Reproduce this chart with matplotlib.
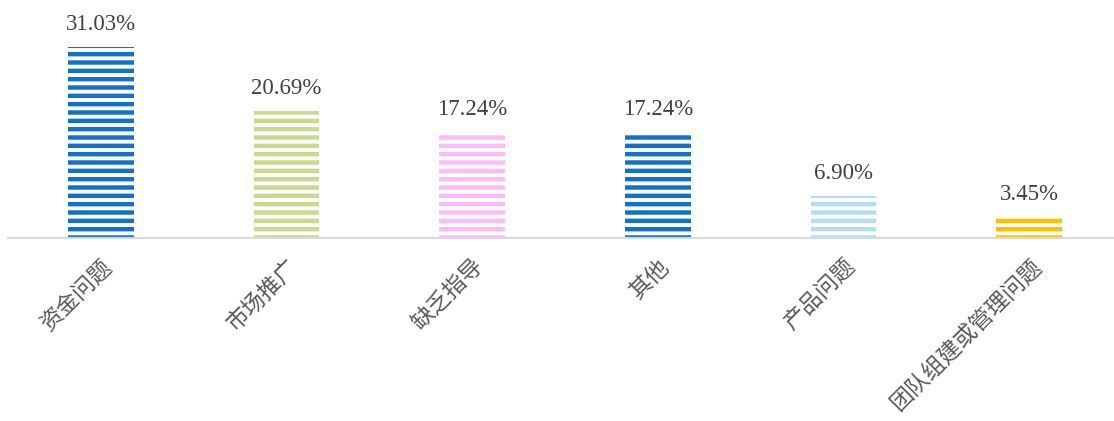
import matplotlib
matplotlib.use("Agg")
import matplotlib.pyplot as plt

# Données du graphique
categories = ["资金问题", "市场推广", "缺乏指导", "其他", "产品问题", "团队组建或管理问题"]
valeurs = [31.03, 20.69, 17.24, 17.24, 6.90, 3.45]
etiquettes = ["31.03%", "20.69%", "17.24%", "17.24%", "6.90%", "3.45%"]
couleurs = ["#1570C8", "#C8DA8E", "#FBBDF7", "#1570C8", "#B3DDF2", "#FFC000"]

plt.rcParams["font.family"] = ["Noto Sans CJK SC", "DejaVu Sans"]
plt.rcParams["hatch.linewidth"] = 3.2

fig = plt.figure(figsize=(11.14, 4.21), dpi=100)
ax = fig.add_axes([8 / 1114, 183 / 421, 1114 / 1114, 238 / 421])

x = range(len(categories))
barres = ax.bar(x, valeurs, width=0.355, facecolor="white", edgecolor=couleurs,
                hatch="--", linewidth=0)
for b, c in zip(barres, couleurs):
    b.set_edgecolor(c)

# Étiquettes de valeur
for i, (v, t) in enumerate(zip(valeurs, etiquettes)):
    ax.text(i, v + 1.9, t, ha="center", va="bottom", fontsize=16.5,
            family="Liberation Serif", color="#404040")

ax.set_xlim(-0.5, 5.5)
ax.set_ylim(0, 38.67)
ax.set_xticks(list(x))
ax.set_xticklabels(categories, rotation=45, ha="right", rotation_mode="anchor",
                   fontsize=16.3, color="#595959")
ax.tick_params(axis="x", length=0, pad=12)
ax.set_yticks([])
for s in ["top", "right", "left"]:
    ax.spines[s].set_visible(False)
ax.spines["bottom"].set_color("#D9D9D9")
ax.spines["bottom"].set_linewidth(1.5)

fig.savefig("out.png", dpi=100)
